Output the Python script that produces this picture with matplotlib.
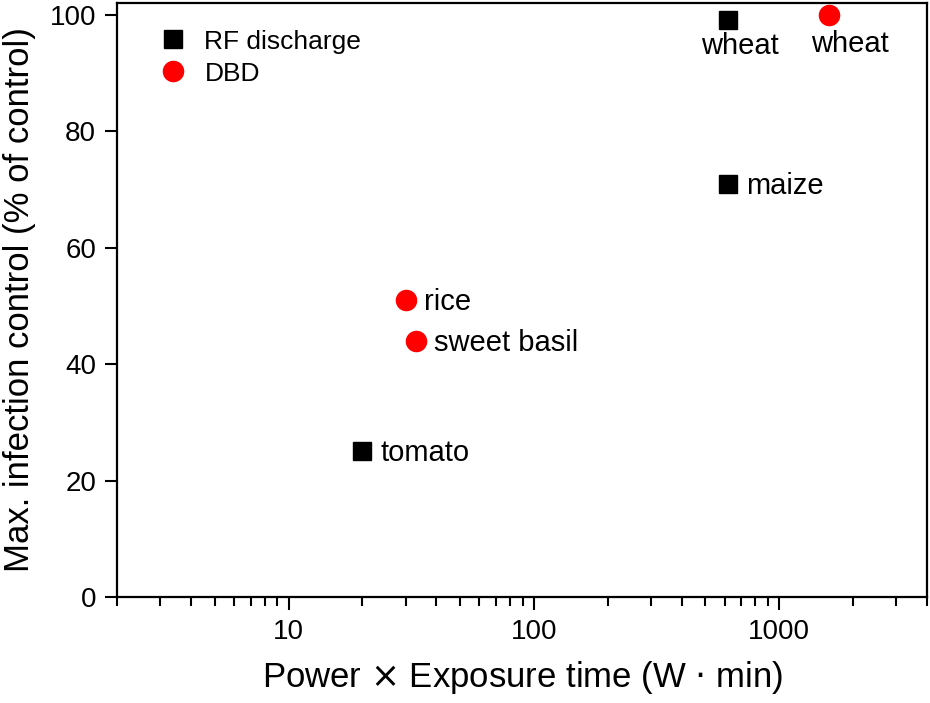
import matplotlib
matplotlib.use('Agg')
import matplotlib.pyplot as plt

plt.rcParams['font.family'] = ['Liberation Sans', 'DejaVu Sans']

# RF discharge data
rf_x = [20, 620, 620]
rf_y = [25, 99, 71]
rf_names = ['tomato', 'wheat', 'maize']

# DBD data
dbd_x = [30, 33, 1600]
dbd_y = [51, 44, 100]
dbd_names = ['rice', 'sweet basil', 'wheat']

fig = plt.figure(figsize=(9.3, 7.03), dpi=100)
ax = fig.add_axes([117/930, 1 - 597/703, 810/930, 594/703])

ax.plot(rf_x, rf_y, 's', color='black', markersize=12.5, linestyle='none',
        label='RF discharge')
ax.plot(dbd_x, dbd_y, 'o', color='#ff0000', markersize=14.5, linestyle='none',
        label='DBD')

# point labels
for x, y, name in zip(rf_x, rf_y, rf_names):
    if name == 'wheat':
        ax.annotate(name, (x, y), xytext=(12, -12), textcoords='offset pixels',
                    ha='center', va='top', fontsize=21)
    else:
        ax.annotate(name, (x, y), xytext=(18, -2), textcoords='offset pixels',
                    ha='left', va='center', fontsize=21)
for x, y, name in zip(dbd_x, dbd_y, dbd_names):
    if name == 'wheat':
        ax.annotate(name, (x, y), xytext=(21, -15), textcoords='offset pixels',
                    ha='center', va='top', fontsize=21)
    else:
        ax.annotate(name, (x, y), xytext=(18, -2), textcoords='offset pixels',
                    ha='left', va='center', fontsize=21)

ax.set_xscale('log')
ax.set_xlim(2, 4000)
ax.set_ylim(0, 102)
ax.set_yticks([0, 20, 40, 60, 80, 100])
ax.set_xticks([10, 100, 1000])
ax.set_xticklabels(['10', '100', '1000'])

ax.tick_params(axis='both', which='major', direction='out', length=9, width=1.5,
               labelsize=20, pad=6)
ax.tick_params(axis='x', which='minor', direction='out', length=6.5, width=1.5)
ax.tick_params(axis='x', which='major', pad=7)
for s in ax.spines.values():
    s.set_linewidth(1.6)

ax.set_xlabel('Power $\\times$ Exposure time (W $\\cdot$ min)', fontsize=25, labelpad=10)
ax.set_ylabel('Max. infection control (% of control)', fontsize=25, labelpad=10)

leg = ax.legend(loc='upper left', bbox_to_anchor=(0.02, 0.995), frameon=False,
                fontsize=19, handletextpad=0.6, labelspacing=0.3,
                handlelength=1.2)

plt.savefig('out.png', dpi=100)
